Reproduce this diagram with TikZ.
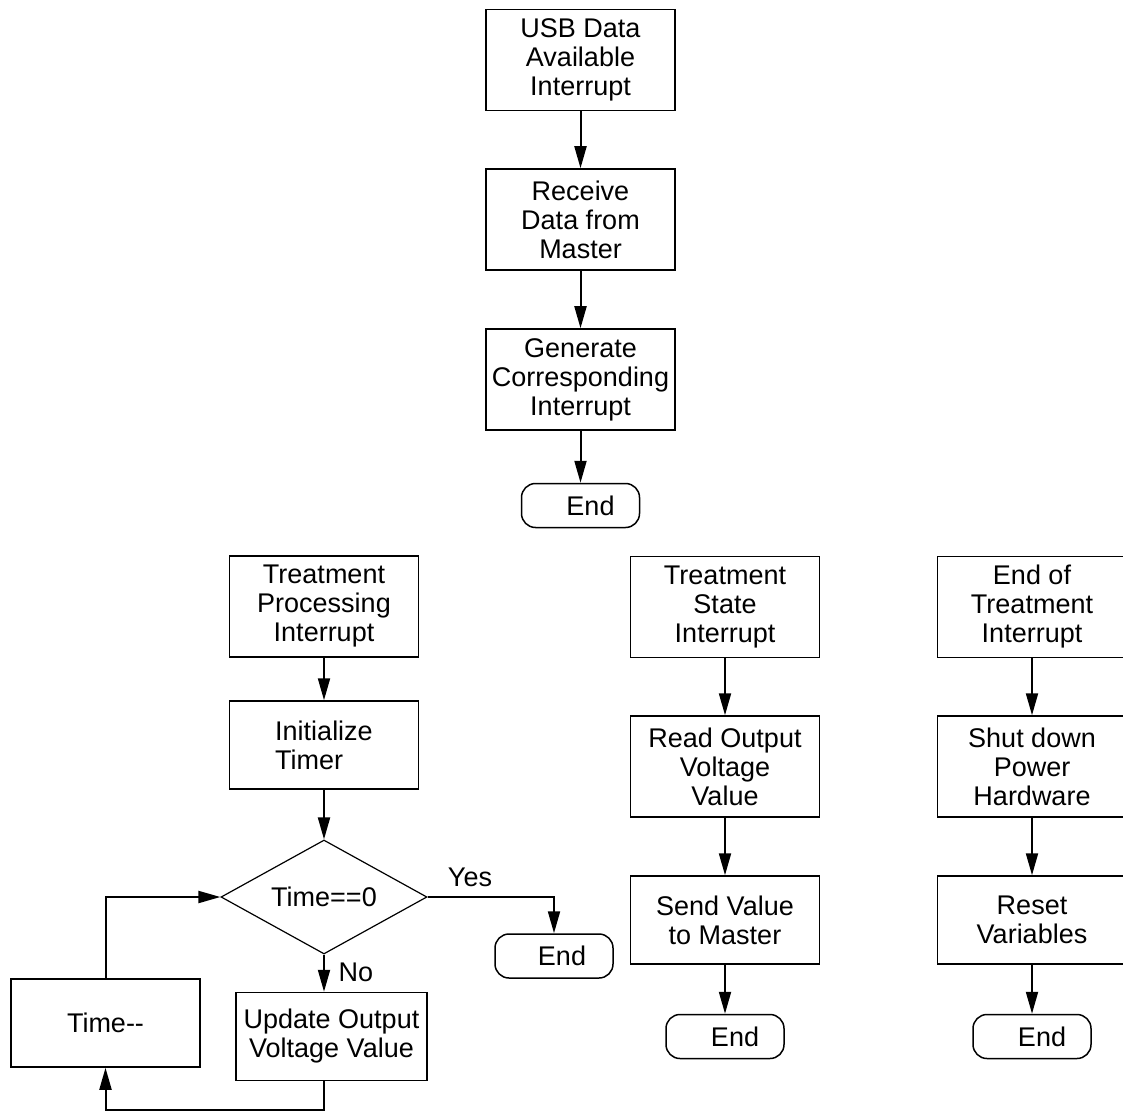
\documentclass[tikz,border=0pt]{standalone}
\usepackage{fontspec}
\setmainfont{Liberation Sans}
\usetikzlibrary{arrows.meta,shapes.geometric}

\tikzset{
	block/.style={draw, line width=0.75pt, rectangle, align=center, inner sep=0pt,
		minimum width=94.5pt, minimum height=50.5pt},
	lowblock/.style={block, minimum height=44pt},
	term/.style={draw, line width=0.75pt, rounded corners=7pt, inner sep=0pt,
		minimum width=59pt, minimum height=22pt},
	decide/.style={draw, line width=0.6pt, diamond, aspect=1.8, inner sep=0pt,
		minimum width=103pt, minimum height=57pt},
	arr/.style={line width=1pt, -{Triangle[length=11pt,width=6pt]}},
	lbl/.style={inner sep=0pt}
}

\begin{document}
\begin{tikzpicture}[x=0.5pt, y=-0.5pt, font=\fontsize{13.5pt}{14.5pt}\selectfont]
			%%%%% START %%%%%
			\useasboundingbox (0, 0) rectangle (1123, 1112);
			
			% usb data interrupt
			\node[block] (usb) at (580.5, 60) {USB Data\\Available\\Interrupt};
			\node[block] (recv) at (580.5, 219.5) {Receive\\Data from\\Master};
			\node[block] (gen) at (580.5, 379.5) {Generate\\Corresponding\\Interrupt};
			\node[term] (endA) at (580.5, 505.5) {\hspace{10pt}End};
			
			\draw[arr] (usb) -- (recv);
			\draw[arr] (recv) -- (gen);
			\draw[arr] (gen) -- (endA);
			
			% treatment processing interrupt
			\node[block] (proc) at (324, 606.5) {Treatment\\Processing\\Interrupt};
			\node[lowblock, align=left] (init) at (324, 745) {Initialize\\Timer\hspace{8pt}};
			\node[decide] (chk) at (324, 897) {Time==0};
			\node[lowblock, minimum width=95.5pt] (upd) at (331.5, 1036.5) {Update Output\\Voltage Value};
			\node[lowblock] (dec) at (105.5, 1023) {Time{-}{-}};
			\node[term] (endB) at (554, 956) {\hspace{8pt}End};
			\coordinate (loop) at (324, 1110);
			
			\draw[arr] (proc) -- (init);
			\draw[arr] (init) -- (chk);
			\draw[arr] (chk.south) -- (chk.south |- upd.north);
			\draw[arr] (chk.east) -| (endB.north);
			\draw[arr] (chk.south |- upd.south) -- (loop) -| (dec.south);
			\draw[arr] (dec.north) |- (chk.west);
			
			\node[lbl] (yes) at (470, 877) {Yes};
			\node[lbl] (no) at (356, 972) {No};
			
			% treatment state interrupt
			\node[block] (state) at (725, 607) {Treatment\\State\\Interrupt};
			\node[block] (read) at (725, 766.5) {Read Output\\Voltage\\Value};
			\node[lowblock] (send) at (725, 920) {Send Value\\to Master};
			\node[term] (endC) at (725, 1036.5) {\hspace{10pt}End};
			
			\draw[arr] (state) -- (read);
			\draw[arr] (read) -- (send);
			\draw[arr] (send) -- (endC);
			
			% end of treatment interrupt
			\node[block] (eot) at (1032, 607) {End of\\Treatment\\Interrupt};
			\node[block] (shut) at (1032, 766.5) {Shut down\\Power\\Hardware};
			\node[lowblock] (reset) at (1032, 920) {Reset\\Variables};
			\node[term] (endD) at (1032, 1036.5) {\hspace{10pt}End};
			
			\draw[arr] (eot) -- (shut);
			\draw[arr] (shut) -- (reset);
			\draw[arr] (reset) -- (endD);
			
			%%%%% END %%%%%
\end{tikzpicture}
\end{document}
